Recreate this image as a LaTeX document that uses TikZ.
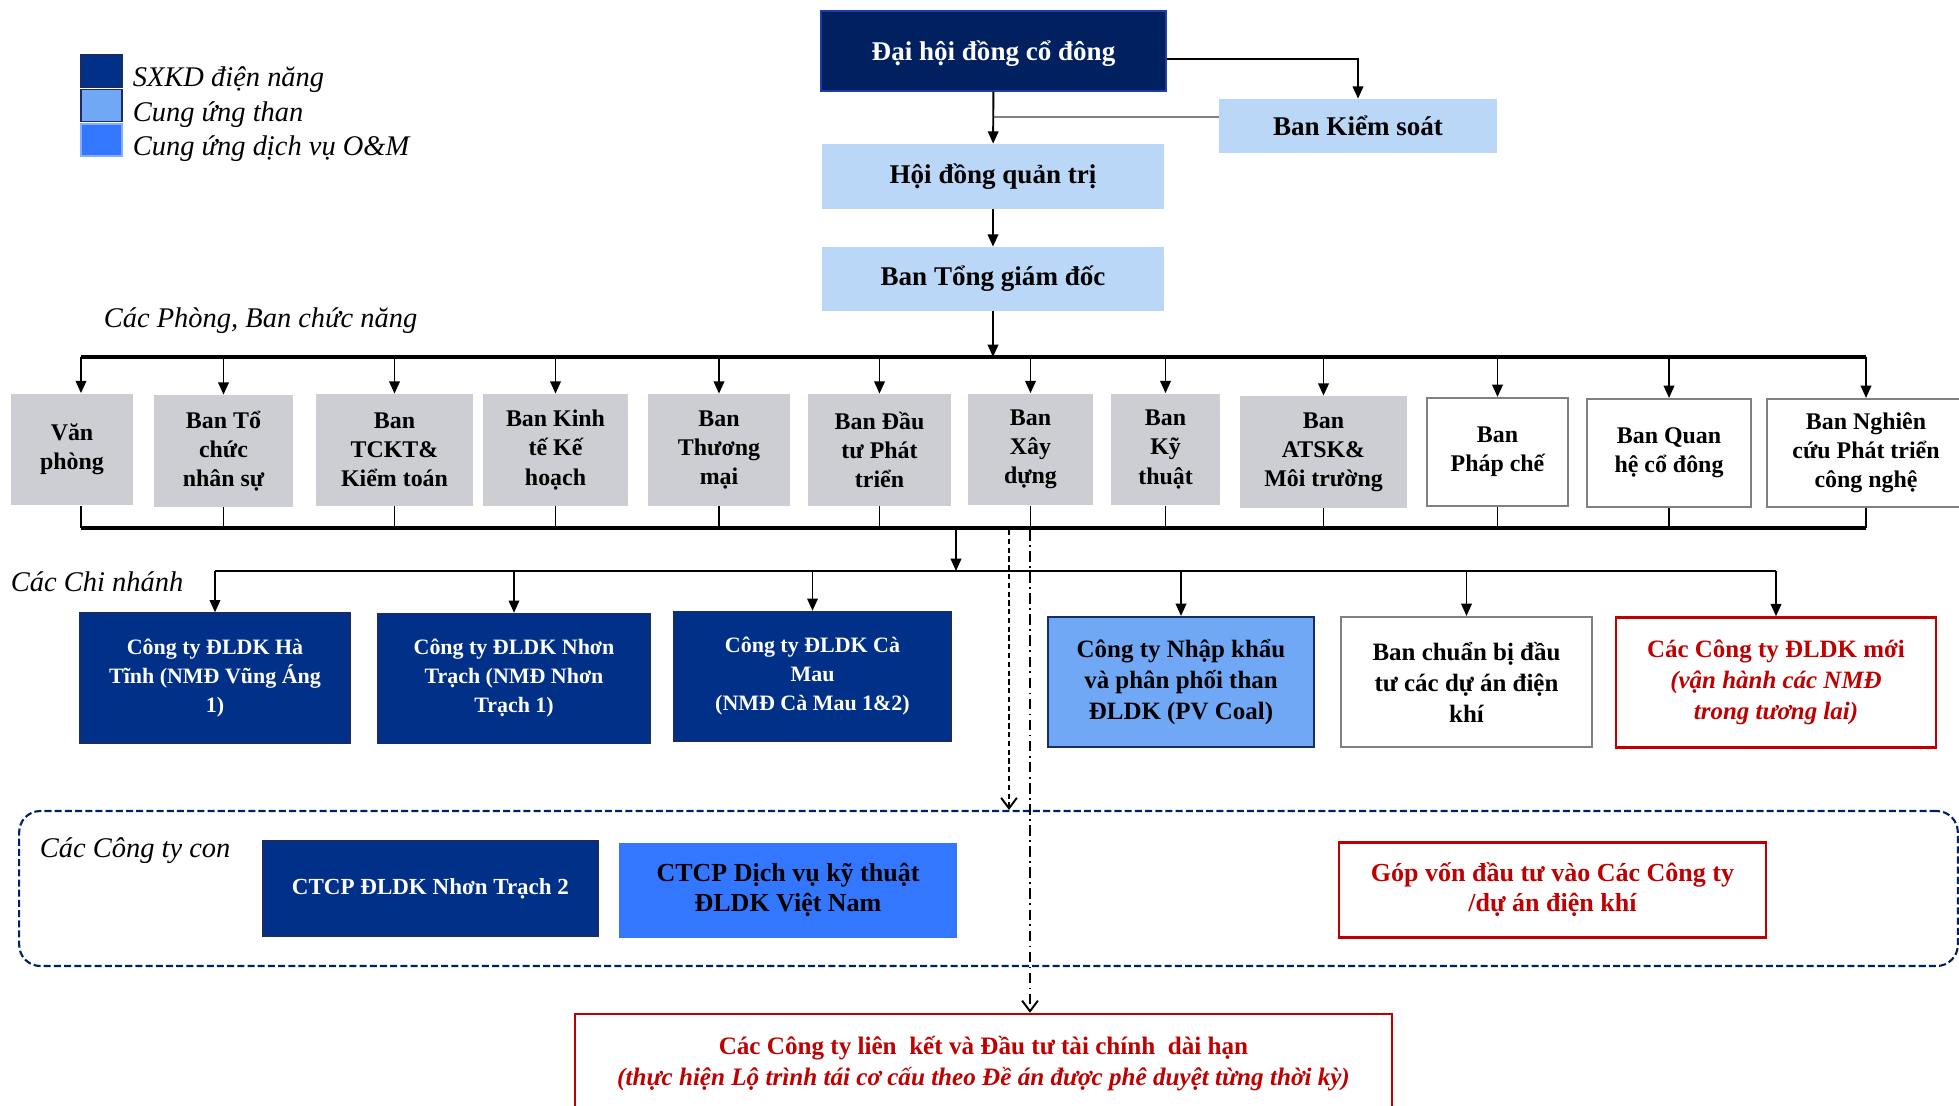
\documentclass[tikz,border=0pt]{standalone}
\usepackage{fontspec}
\setmainfont{Liberation Serif}
\usepackage{xcolor}
\usepackage{tikz}
\usetikzlibrary{arrows.meta}

\definecolor{dhnavy}{RGB}{0,32,96}
\definecolor{dhedge}{RGB}{30,60,170}
\definecolor{brnavy}{RGB}{0,48,135}
\definecolor{bredge}{RGB}{25,45,100}
\definecolor{paleblue}{RGB}{187,215,247}
\definecolor{deptgray}{RGB}{205,206,212}
\definecolor{coalblue}{RGB}{112,168,245}
\definecolor{omblue}{RGB}{51,119,255}
\definecolor{pvred}{RGB}{192,0,0}
\definecolor{boxgray}{RGB}{128,128,128}

\tikzset{
	box/.style={rectangle,align=center,inner sep=2pt},
	topbox/.style={box,fill=paleblue,font=\fontsize{15.4}{18}\selectfont\bfseries},
	deptbox/.style={box,fill=deptgray,minimum height=2.24cm,font=\fontsize{13.6}{16.6}\selectfont\bfseries},
	wdeptbox/.style={box,fill=white,draw=boxgray,line width=1.2pt,minimum height=2.16cm,font=\fontsize{13.6}{16.6}\selectfont\bfseries},
	brbox/.style={box,fill=brnavy,draw=bredge,line width=0.8pt,text=white,minimum height=2.6cm,font=\fontsize{12.5}{16.5}\selectfont\bfseries},
	bigbox/.style={box,minimum height=2.6cm,font=\fontsize{14.2}{17.6}\selectfont\bfseries},
	lgbox/.style={rectangle,minimum width=0.82cm,minimum height=0.64cm,line width=1pt,inner sep=0pt},
	grplabel/.style={inner sep=2pt,font=\fontsize{16.2}{19}\selectfont\itshape},
	conn/.style={draw=black,line width=1.1pt,-{Triangle[length=7pt,width=6pt]}},
	bus/.style={draw=black,line width=1.8pt},
	stub/.style={draw=black,line width=1.1pt},
	dotarr/.style={draw=black,line width=1.1pt,dash pattern=on 3pt off 2pt,-{Straight Barb[length=6pt,width=9pt]}},
	dasharr/.style={draw=black,line width=1.1pt,dash pattern=on 6pt off 2.5pt on 1pt off 2.5pt,-{Straight Barb[length=6pt,width=9pt]}},
	conbox/.style={rectangle,draw=dhnavy,line width=1.2pt,dash pattern=on 4pt off 1.8pt,rounded corners=12pt}
}

\begin{document}
\begin{tikzpicture}[x=0.02cm,y=-0.02cm]
		\useasboundingbox (0,0) rectangle (1959,1105);
		\clip (0,0) rectangle (1959,1105);
		%
		\node[lgbox,fill=brnavy,draw=bredge] (lg1) at (101.5,71) {};
		\node[lgbox,fill=coalblue,draw=bredge] (lg2) at (101.5,105.5) {};
		\node[lgbox,fill=omblue,draw=omblue!60!white] (lg3) at (101.5,140) {};
		\node[grplabel,anchor=west] (lt1) at (129,80) {SXKD điện năng};
		\node[grplabel,anchor=west] (lt2) at (129,115) {Cung ứng than};
		\node[grplabel,anchor=west] (lt3) at (129,149) {Cung ứng dịch vụ O\&M};
		%
		\node[box,fill=dhnavy,draw=dhedge,line width=1pt,text=white,minimum width=6.9cm,minimum height=1.6cm,text depth=0pt,font=\fontsize{15.4}{18}\selectfont\bfseries] (dh) at (993.5,51) {Đại hội đồng cổ đông};
		\node[topbox,minimum width=5.56cm,minimum height=1.08cm] (bks) at (1358,126) {Ban Kiểm soát};
		\node[topbox,minimum width=6.84cm,minimum height=1.3cm] (hd) at (993,176.5) {Hội đồng quản trị};
		\node[topbox,minimum width=6.84cm,minimum height=1.28cm] (tgd) at (993,279) {Ban Tổng giám đốc};
		%
		\node[grplabel,anchor=west] (lbpb) at (100,321) {Các Phòng, Ban chức năng};
		\node[deptbox,minimum width=2.44cm] (vp) at (72,449.5) {Văn\\phòng};
		\node[deptbox,minimum width=2.78cm] (tc) at (223.5,451) {Ban Tổ\\chức\\nhân sự};
		\node[deptbox,minimum width=3.14cm] (tk) at (394.5,450) {Ban\\TCKT\&\\Kiểm toán};
		\node[deptbox,minimum width=2.9cm] (kh) at (555.5,450) {Ban Kinh\\tế Kế\\hoạch};
		\node[deptbox,minimum width=2.84cm] (tm) at (719,450) {Ban\\Thương\\mại};
		\node[deptbox,minimum width=2.86cm] (dt) at (879.5,450) {Ban Đầu\\tư Phát\\triển};
		\node[deptbox,minimum width=2.5cm] (xd) at (1030.5,449.5) {Ban\\Xây\\dựng};
		\node[deptbox,minimum width=2.18cm] (kt) at (1165.5,449.5) {Ban\\Kỹ\\thuật};
		\node[deptbox,minimum width=3.34cm] (at) at (1323.5,452) {Ban\\ATSK\&\\Môi trường};
		\node[wdeptbox,minimum width=2.82cm] (pc) at (1497.5,452) {Ban\\Pháp chế};
		\node[wdeptbox,minimum width=3.28cm] (qh) at (1669,453) {Ban Quan\\hệ cổ đông};
		\node[wdeptbox,minimum width=3.96cm] (nc) at (1866,453) {Ban Nghiên\\cứu Phát triển\\công nghệ};
		%
		\node[grplabel,anchor=west] (lbcn) at (7,582) {Các Chi nhánh};
		\node[brbox,minimum width=5.4cm] (hn) at (215,678) {Công ty ĐLDK Hà\\Tĩnh (NMĐ Vũng Áng\\1)};
		\node[brbox,minimum width=5.44cm] (nt) at (514,678.5) {Công ty ĐLDK Nhơn\\Trạch (NMĐ Nhơn\\Trạch 1)};
		\node[brbox,minimum width=5.54cm] (cm) at (812.5,676.5) {Công ty ĐLDK Cà\\Mau\\(NMĐ Cà Mau 1\&2)};
		\node[bigbox,fill=coalblue,draw=bredge,line width=1.2pt,minimum width=5.32cm] (pv) at (1181,682) {Công ty Nhập khẩu\\và phân phối than\\ĐLDK (PV Coal)};
		\node[bigbox,fill=white,draw=boxgray,line width=1.2pt,minimum width=5.02cm] (cb) at (1466.5,682) {Ban chuẩn bị đầu\\tư các dự án điện\\khí};
		\node[bigbox,fill=white,draw=pvred,text=pvred,line width=1.4pt,minimum width=6.4cm] (moi) at (1776,682.5) {Các Công ty ĐLDK mới\\\textit{(vận hành các NMĐ}\\\textit{trong tương lai)}};
		%
		\node[conbox,minimum width=38.78cm,minimum height=3.1cm] (con) at (988.5,888.5) {};
		\node[grplabel,anchor=west] (lbcc) at (36,851) {Các Công ty con};
		\node[box,fill=brnavy,draw=bredge,line width=0.8pt,text=white,minimum width=6.7cm,minimum height=1.9cm,font=\fontsize{13.1}{16}\selectfont\bfseries] (nt2) at (430.5,888.5) {CTCP ĐLDK Nhơn Trạch 2};
		\node[box,fill=omblue,minimum width=6.76cm,minimum height=1.9cm,font=\fontsize{14.8}{17}\selectfont\bfseries] (dv) at (788,890) {CTCP Dịch vụ kỹ thuật\\ĐLDK Việt Nam};
		\node[box,fill=white,draw=pvred,text=pvred,line width=1.4pt,minimum width=8.54cm,minimum height=1.9cm,font=\fontsize{14.8}{17}\selectfont\bfseries] (gv) at (1552.5,890) {Góp vốn đầu tư vào Các Công ty\\/dự án điện khí};
		\node[box,fill=white,draw=pvred,text=pvred,line width=1.4pt,minimum width=16.34cm,minimum height=1.98cm,font=\fontsize{14.3}{17.6}\selectfont\bfseries] (lk) at (983.5,1063.5) {Các Công ty liên\ \ kết và Đầu tư tài chính\ \ dài hạn\\\textit{(thực hiện Lộ trình tái cơ cấu theo Đề án được phê duyệt từng thời kỳ)}};
		%
		\coordinate (ks) at (1219,117);
		\coordinate (b1) at (0,357);
		\coordinate (b2) at (0,528);
		\coordinate (b3) at (956,571);
		\coordinate (dq) at (1009,530);
		\coordinate (dd) at (1030,530);
		\coordinate (vpa) at ([xshift=0.18cm]vp.center);
		%
		\draw[conn] ([yshift=-0.16cm]dh.east) -| (bks.north);
		\draw[stub,draw=gray] (ks) -- (ks -| dh.south);
		\path
		(dh) edge[conn] (hd)
		(hd) edge[conn] (tgd)
		(tgd) edge[conn] (tgd |- b1);
		\draw[bus] (vpa |- b1) -- (nc.north |- b1);
		\path
		(vpa |- b1) edge[conn] (vpa |- vp.north)
		(tc.north |- b1) edge[conn] (tc)
		(tk.north |- b1) edge[conn] (tk)
		(kh.north |- b1) edge[conn] (kh)
		(tm.north |- b1) edge[conn] (tm)
		(dt.north |- b1) edge[conn] (dt)
		(xd.north |- b1) edge[conn] (xd)
		(kt.north |- b1) edge[conn] (kt)
		(at.north |- b1) edge[conn] (at)
		(pc.north |- b1) edge[conn] (pc)
		(qh.north |- b1) edge[conn] (qh)
		(nc.north |- b1) edge[conn] (nc);
		\path
		(vpa |- vp.south) edge[stub] (vpa |- b2)
		(tc) edge[stub] (tc |- b2)
		(tk) edge[stub] (tk |- b2)
		(kh) edge[stub] (kh |- b2)
		(tm) edge[stub] (tm |- b2)
		(dt) edge[stub] (dt |- b2)
		(xd) edge[stub] (xd |- b2)
		(kt) edge[stub] (kt |- b2)
		(at) edge[stub] (at |- b2)
		(pc) edge[stub] (pc |- b2)
		(qh) edge[stub] (qh |- b2)
		(nc) edge[stub] (nc |- b2);
		\draw[bus] (vpa |- b2) -- (nc.south |- b2);
		%
		\draw[conn] (b3 |- b2) -- (b3);
		\draw[bus,line width=1.5pt] (hn.north |- b3) -- (moi.north |- b3);
		\path
		(hn.north |- b3) edge[conn] (hn)
		(nt.north |- b3) edge[conn] (nt)
		(cm.north |- b3) edge[conn] (cm)
		(pv.north |- b3) edge[conn] (pv)
		(cb.north |- b3) edge[conn] (cb)
		(moi.north |- b3) edge[conn] (moi);
		%
		\draw[dotarr] (dq) -- (dq |- con.north);
		\draw[dasharr] (dd) -- (dd |- lk.north);
\end{tikzpicture}
\end{document}
